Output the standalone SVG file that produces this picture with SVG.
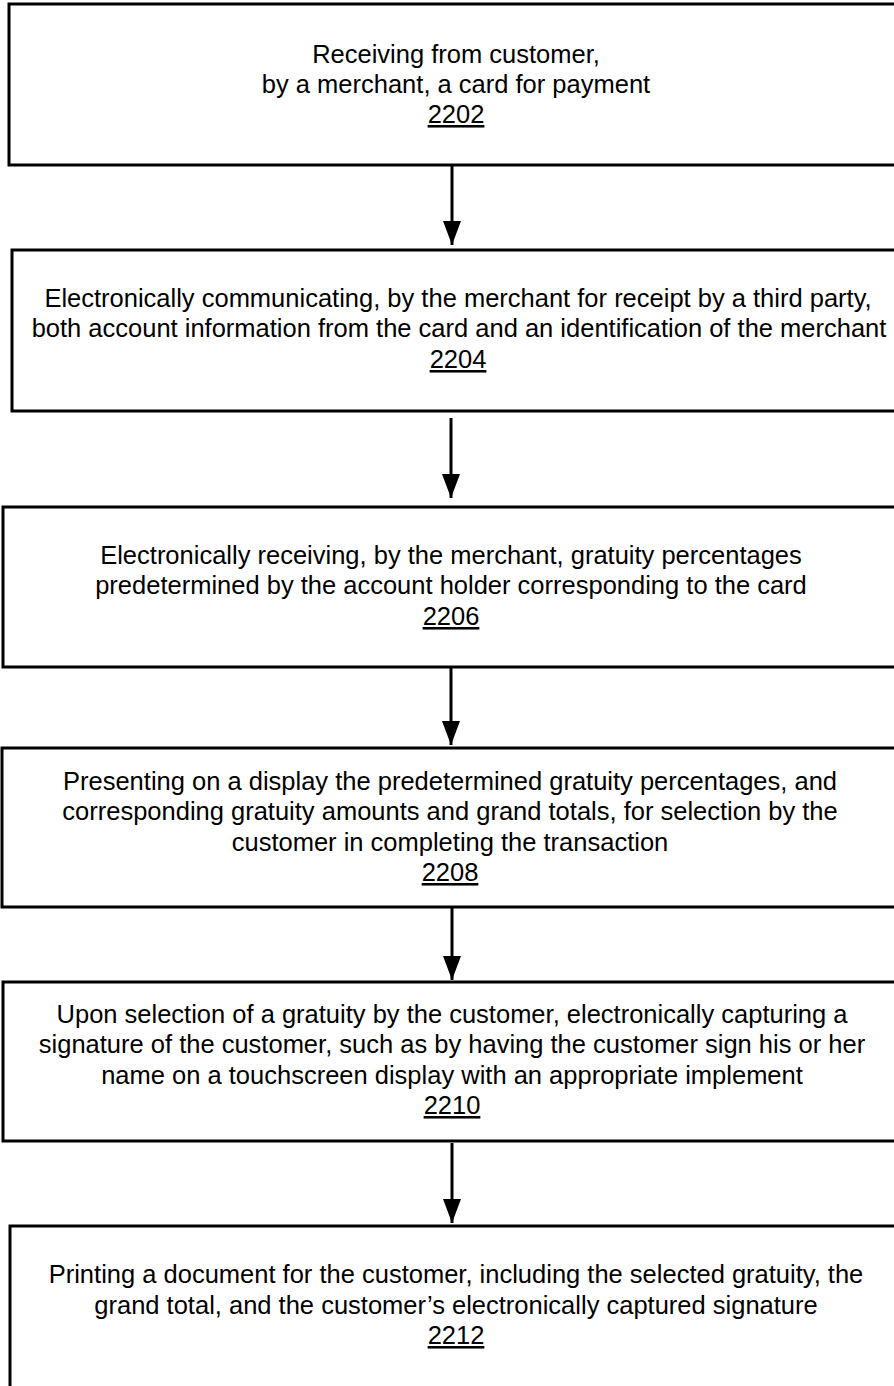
<svg xmlns="http://www.w3.org/2000/svg" width="894" height="1386" viewBox="0 0 894 1386">
<defs>
<style>
.box{fill:#fff;stroke:#000;stroke-width:3}
.t{font-family:"Liberation Sans",Arial,sans-serif;font-size:25.5px;fill:#000;text-anchor:middle}
.n{text-decoration:underline}
.c{stroke:#000;stroke-width:3;fill:none}
</style>
<marker id="ah" markerUnits="userSpaceOnUse" markerWidth="24" markerHeight="18" refX="24" refY="9" orient="auto" viewBox="0 0 24 18">
<polygon points="0,0 24,9 0,18" fill="#000"/>
</marker>
</defs>
<rect width="894" height="1386" fill="#fff"/>
<g id="n2202">
<rect class="box" x="9" y="4" width="896" height="161"/>
<text class="t" x="456" y="63">Receiving from customer,</text>
<text class="t" x="456" y="93">by a merchant, a card for payment</text>
<text class="t n" x="456" y="123">2202</text>
</g>
<g id="n2204">
<rect class="box" x="12" y="250" width="896" height="161"/>
<text class="t" x="458" y="307">Electronically communicating, by the merchant for receipt by a third party,</text>
<text class="t" x="459" y="337">both account information from the card and an identification of the merchant</text>
<text class="t n" x="458" y="368">2204</text>
</g>
<g id="n2206">
<rect class="box" x="3" y="507" width="896" height="160"/>
<text class="t" x="451" y="564">Electronically receiving, by the merchant, gratuity percentages</text>
<text class="t" x="451" y="594">predetermined by the account holder corresponding to the card</text>
<text class="t n" x="451" y="625">2206</text>
</g>
<g id="n2208">
<rect class="box" x="2" y="748" width="896" height="159"/>
<text class="t" x="450" y="790">Presenting on a display the predetermined gratuity percentages, and</text>
<text class="t" x="450" y="820">corresponding gratuity amounts and grand totals, for selection by the</text>
<text class="t" x="450" y="851">customer in completing the transaction</text>
<text class="t n" x="450" y="881">2208</text>
</g>
<g id="n2210">
<rect class="box" x="3" y="982" width="896" height="159"/>
<text class="t" x="452" y="1023">Upon selection of a gratuity by the customer, electronically capturing a</text>
<text class="t" x="452" y="1053">signature of the customer, such as by having the customer sign his or her</text>
<text class="t" x="452" y="1084">name on a touchscreen display with an appropriate implement</text>
<text class="t n" x="452" y="1114">2210</text>
</g>
<g id="n2212">
<rect class="box" x="10" y="1226" width="896" height="170"/>
<text class="t" x="456" y="1283">Printing a document for the customer, including the selected gratuity, the</text>
<text class="t" x="456" y="1314">grand total, and the customer’s electronically captured signature</text>
<text class="t n" x="456" y="1344">2212</text>
</g>
<g id="connectors">
<line class="c" x1="452" y1="166" x2="452" y2="245" marker-end="url(#ah)"/>
<line class="c" x1="451" y1="418" x2="451" y2="498" marker-end="url(#ah)"/>
<line class="c" x1="451" y1="668" x2="451" y2="745" marker-end="url(#ah)"/>
<line class="c" x1="452" y1="907" x2="452" y2="980" marker-end="url(#ah)"/>
<line class="c" x1="452" y1="1143" x2="452" y2="1223" marker-end="url(#ah)"/>
</g>
</svg>
